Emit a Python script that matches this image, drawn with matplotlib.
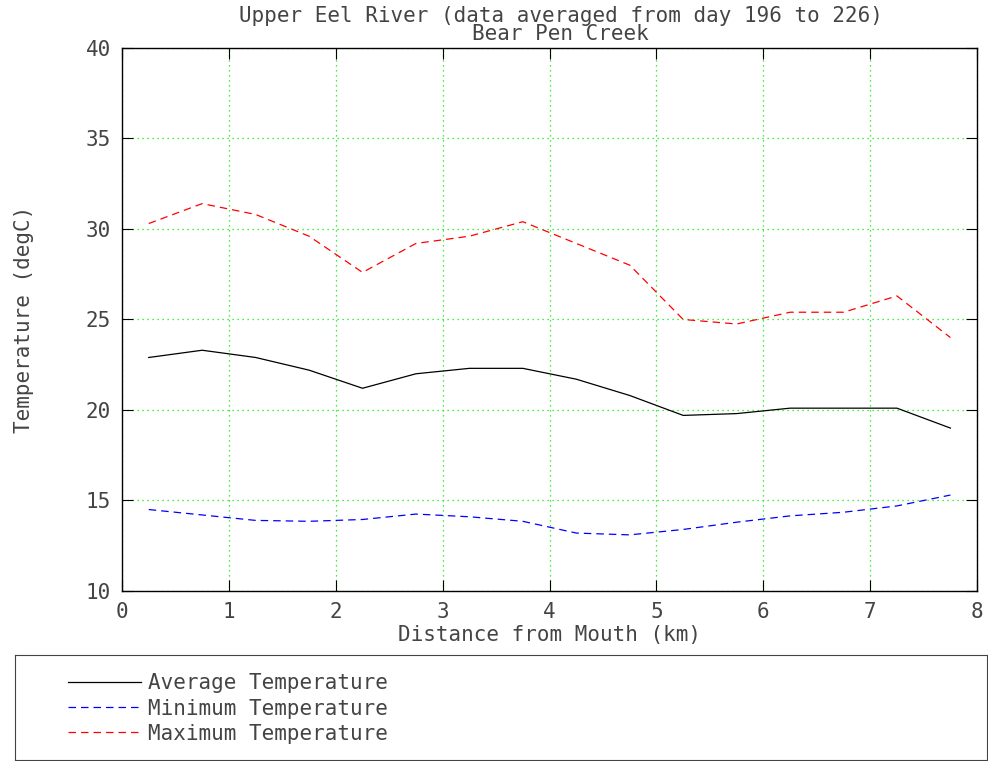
import matplotlib
matplotlib.use("Agg")
import matplotlib.pyplot as plt

# distance from mouth (km)
distance = [0.25, 0.75, 1.25, 1.75, 2.25, 2.75, 3.25, 3.75,
            4.25, 4.75, 5.25, 5.75, 6.25, 6.75, 7.25, 7.75]

# temperatures (degC)
avg_temp = [22.9, 23.3, 22.9, 22.2, 21.2, 22.0, 22.3, 22.3,
            21.7, 20.8, 19.7, 19.8, 20.1, 20.1, 20.1, 19.0]
min_temp = [14.5, 14.2, 13.9, 13.85, 13.95, 14.25, 14.1, 13.85,
            13.2, 13.1, 13.4, 13.8, 14.15, 14.35, 14.7, 15.3]
max_temp = [30.3, 31.4, 30.8, 29.6, 27.6, 29.2, 29.6, 30.4,
            29.2, 28.0, 25.0, 24.75, 25.4, 25.4, 26.3, 24.0]

labels = ["Average Temperature", "Minimum Temperature", "Maximum Temperature"]

plt.rcParams["font.family"] = ["DejaVu Sans Mono"]
plt.rcParams["font.size"] = 15
text_col = "#444444"

fig = plt.figure(figsize=(9.88, 7.61), dpi=100)
ax = fig.add_axes([0.1235, 0.2234, 0.8655, 0.7136])

l1, = ax.plot(distance, avg_temp, color="black", lw=0.9)
l2, = ax.plot(distance, min_temp, color="blue", lw=0.9, dashes=(6, 4))
l3, = ax.plot(distance, max_temp, color="red", lw=0.9, dashes=(6, 4))

ax.set_xlim(0, 8)
ax.set_ylim(10, 40)
ax.set_xticks(range(0, 9))
ax.set_yticks(range(10, 41, 5))
ax.grid(True, color="#00ee00", linestyle=(0, (1, 3)), lw=0.9)
ax.tick_params(direction="in", length=8, top=True, right=True,
               labelcolor=text_col, pad=8, width=0.8)
for s in ax.spines.values():
    s.set_linewidth(1.0)

ax.set_xlabel("Distance from Mouth (km)", color=text_col, labelpad=2)
ax.set_ylabel("Temperature (degC)", color=text_col, labelpad=37)
ax.set_title("Upper Eel River (data averaged from day 196 to 226)\nBear Pen Creek",
             color=text_col, fontsize=15, linespacing=0.85, pad=6, x=0.513)

# legend box below the plot
lax = fig.add_axes([0.0152, 0.0013, 0.984, 0.138])
lax.set_xticks([])
lax.set_yticks([])
for s in lax.spines.values():
    s.set_color("#444444")
lax.legend([l1, l2, l3], labels, loc="center left", bbox_to_anchor=(0.0543, 0.49),
           frameon=False, handlelength=3.5, handletextpad=0.35,
           labelspacing=0.25, labelcolor=text_col, borderpad=0,
           borderaxespad=0)

fig.savefig("out.png", dpi=100)
